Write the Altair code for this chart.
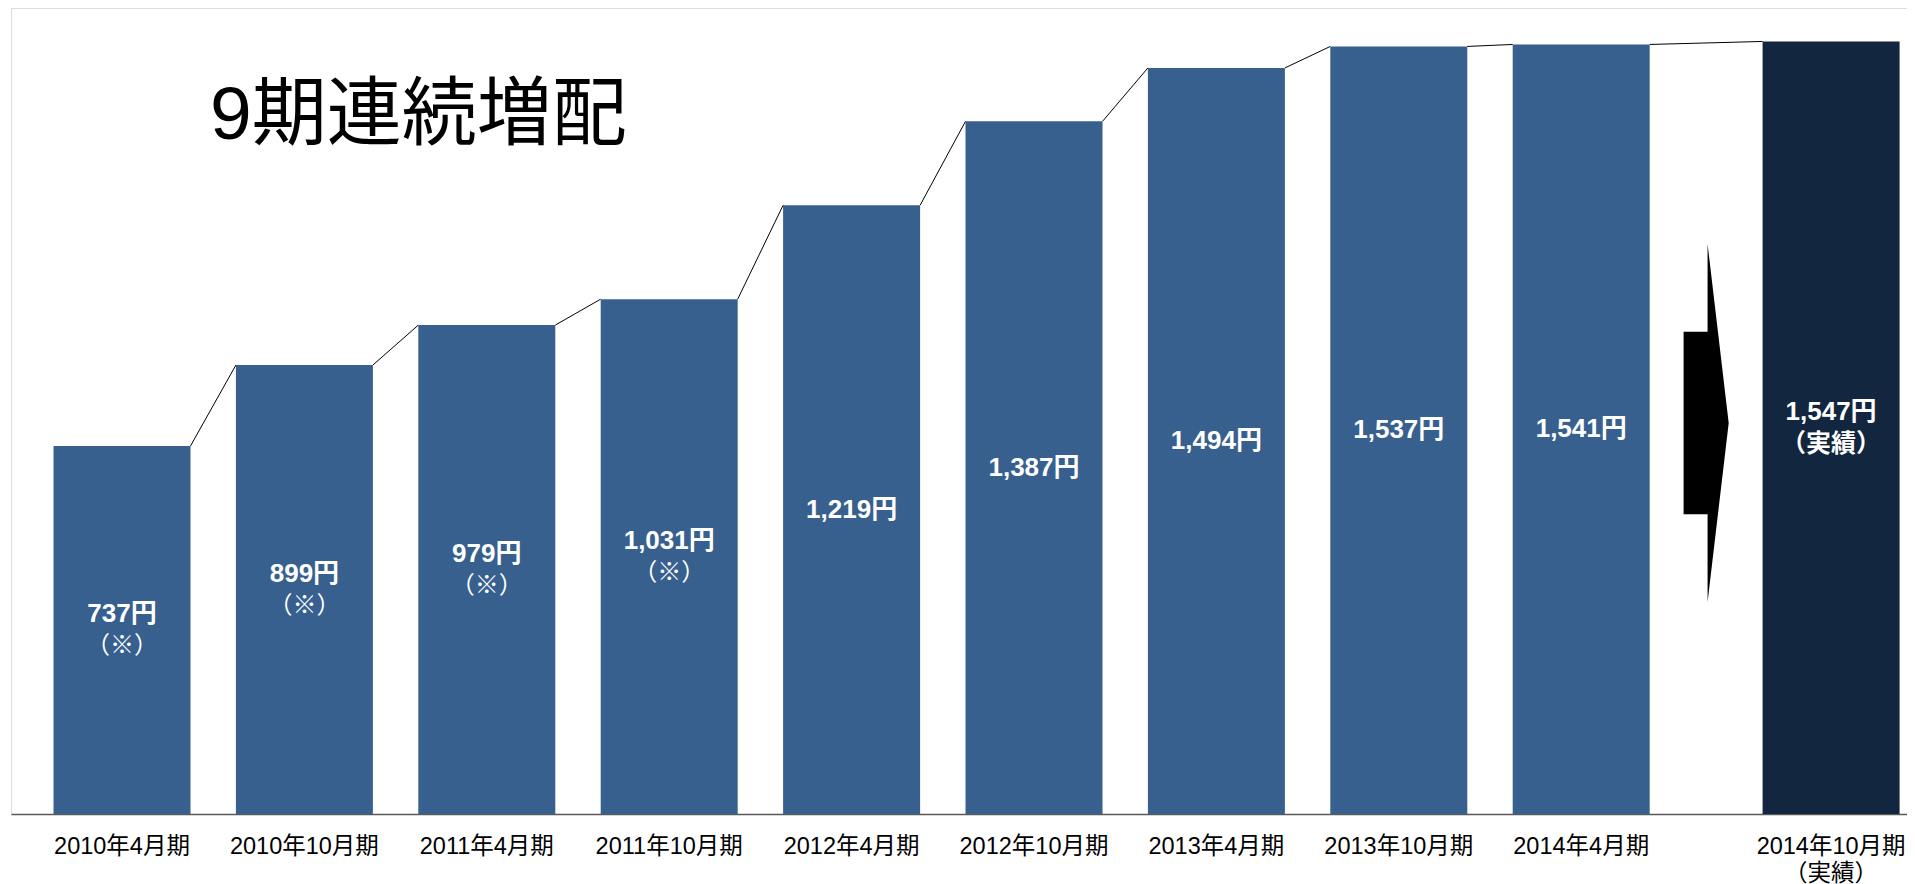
import altair as alt
import pandas as pd

# ---- data ----
periods = ["2010年4月期", "2010年10月期", "2011年4月期", "2011年10月期", "2012年4月期",
           "2012年10月期", "2013年4月期", "2013年10月期", "2014年4月期", "2014年10月期"]
dividends = [737, 899, 979, 1031, 1219, 1387, 1494, 1537, 1541, 1547]
notes = ["（※）", "（※）", "（※）", "（※）", "", "", "", "", "", "（実績）"]
kinds = ["past"] * 9 + ["actual"]
axis_suffix = ["", "", "", "", "", "", "", "", "", "（実績）"]
title_text = "9期連続増配"

# ---- layout constants ----
W, H = 1896, 806
SLOT = 182.4          # px between bar centres
FIRST = 111.0         # px from plot left to first bar centre
BAR_W = 137.0
FINAL_GAP = 1.37      # extra slot distance before the final (actual) bar
YMAX = 1614
FONT = "Liberation Sans, Noto Sans CJK JP"
HALF = BAR_W / 2 / SLOT

pos = [float(i) for i in range(len(periods) - 1)] + [len(periods) - 2 + FINAL_GAP]
labels = [p + ("\n" + s if s else "") for p, s in zip(periods, axis_suffix)]

df = pd.DataFrame({
    "period": periods, "value": dividends, "note": notes, "kind": kinds,
    "pos": pos, "label": labels,
})
df["left"] = df["pos"] - HALF
df["right"] = df["pos"] + HALF
df["mid"] = df["value"] / 2
df["vlabel"] = df["value"].map(lambda v: f"{v:,}円")

conn = pd.DataFrame({
    "x": df["right"].iloc[:-1].values, "x2": df["left"].iloc[1:].values,
    "y": df["value"].iloc[:-1].values, "y2": df["value"].iloc[1:].values,
})

xscale = alt.Scale(domain=[-FIRST / SLOT, (W - FIRST) / SLOT], nice=False, zero=False)
yscale = alt.Scale(domain=[0, YMAX], nice=False)

base = alt.Chart(df)

bars = base.mark_rect().encode(
    x=alt.X("left:Q", scale=xscale,
            axis=alt.Axis(labels=False, ticks=False, grid=False, title=None,
                          domainColor="#595959", domainWidth=1.5)),
    x2="right:Q",
    y=alt.Y("value:Q", scale=yscale, axis=None),
    y2=alt.datum(0),
    color=alt.Color("kind:N", scale=alt.Scale(domain=["past", "actual"],
                                              range=["#37608F", "#13263F"]), legend=None),
)

connectors = alt.Chart(conn).mark_rule(color="black", strokeWidth=1).encode(
    x=alt.X("x:Q", scale=xscale), x2="x2:Q",
    y=alt.Y("y:Q", scale=yscale), y2="y2:Q",
)

vals_single = base.transform_filter("datum.note == ''").mark_text(
    font=FONT, fontSize=26, fontWeight="bold", color="white", baseline="middle"
).encode(x=alt.X("pos:Q", scale=xscale), y=alt.Y("mid:Q", scale=yscale), text="vlabel:N")

vals_double = base.transform_filter("datum.note != ''").mark_text(
    font=FONT, fontSize=26, fontWeight="bold", color="white", baseline="middle"
).encode(x=alt.X("pos:Q", scale=xscale), y=alt.Y("mid:Q", scale=yscale),
         yOffset=alt.value(-15.5), text="vlabel:N")

notes_reg = base.transform_filter("datum.note == '（※）'").mark_text(
    font=FONT, fontSize=24, fontWeight="normal", color="white", baseline="middle"
).encode(x=alt.X("pos:Q", scale=xscale), y=alt.Y("mid:Q", scale=yscale),
         yOffset=alt.value(16.5), text="note:N")

notes_bold = base.transform_filter("datum.note == '（実績）'").mark_text(
    font=FONT, fontSize=25, fontWeight="bold", color="white", baseline="middle"
).encode(x=alt.X("pos:Q", scale=xscale), y=alt.Y("mid:Q", scale=yscale),
         yOffset=alt.value(16.5), text="note:N")

xlabels = base.mark_text(
    font=FONT, fontSize=23.5, color="black", baseline="top", lineBreak="\n", lineHeight=27
).encode(x=alt.X("pos:Q", scale=xscale), y=alt.value(H + 21), text="label:N")

# block arrow between the last two bars
arrow_path = ("M -0.126 -0.51 L 0.008 -0.51 L 0.008 -1 L 0.126 0 "
              "L 0.008 1 L 0.008 0.51 L -0.126 0.51 Z")
arrow_df = pd.DataFrame({"ax": [(df["right"].iloc[-2] + df["left"].iloc[-1]) / 2]})
arrow = alt.Chart(arrow_df).mark_point(
    shape=arrow_path, filled=True, color="black", opacity=1, size=358 ** 2, strokeWidth=0
).encode(x=alt.X("ax:Q", scale=xscale), y=alt.value(415))

title = alt.Chart(pd.DataFrame({"t": [title_text]})).mark_text(
    font=FONT, fontSize=75, color="black", align="left", baseline="middle"
).encode(x=alt.value(199), y=alt.value(108), text="t:N")

chart = alt.layer(
    bars, connectors, vals_single, vals_double, notes_reg, notes_bold, xlabels, arrow, title
).properties(
    width=W, height=H, padding={"left": 3, "top": 0, "right": 0, "bottom": 0}
).configure_view(stroke=None).configure(background="white")

chart.save("out.html", embed_options={"renderer": "svg", "actions": False})
